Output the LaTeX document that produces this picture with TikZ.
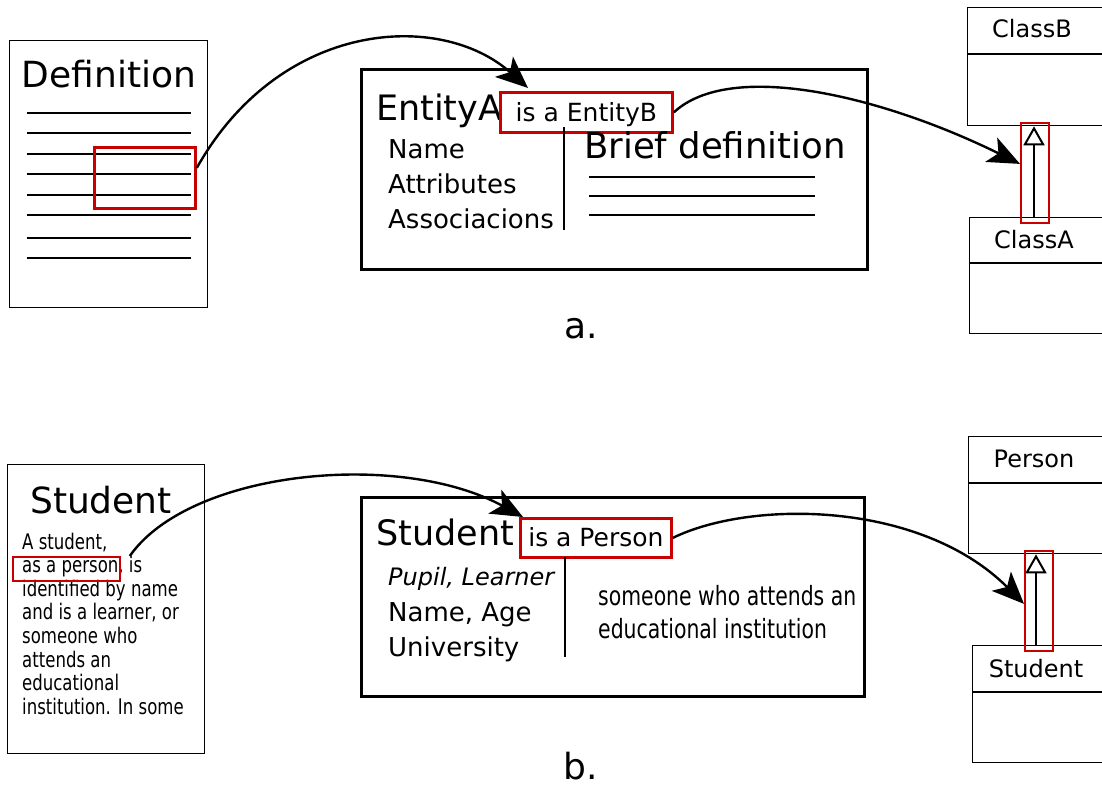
\documentclass[tikz,border=0pt]{standalone}
\usepackage{fontspec}
\setmainfont{DejaVu Sans}
\newfontfamily\narrowfont[FakeStretch=0.77]{DejaVu Sans}
\usetikzlibrary{arrows.meta}
\definecolor{markred}{RGB}{200,0,0}

\begin{document}
\begin{tikzpicture}[x=1pt,y=-1pt,
  frame/.style={draw, line width=1.3pt, inner sep=0pt, anchor=north west},
  entitybox/.style={draw, line width=2.8pt, inner sep=0pt, anchor=north west},
  umlbox/.style={draw, line width=1.3pt, inner sep=0pt, anchor=north west, minimum width=143},
  rule/.style={line width=1.3pt},
  redbox/.style={draw=markred, line width=2.8pt, inner sep=0pt},
  redthin/.style={draw=markred, line width=1.8pt, inner sep=0pt, anchor=north west},
  txt/.style={inner sep=0pt, anchor=base west},
  ctxt/.style={inner sep=0pt, anchor=base},
  link/.style={line width=2.4pt, -{Stealth[length=32pt,width=27pt,inset=8pt]}},
  generalize/.style={line width=2pt, -{Triangle[open,length=19pt,width=21pt,fill=white]}},
  title/.style={font=\fontsize{36}{40}\selectfont},
  big/.style={font=\fontsize{35}{40}\selectfont},
  mid/.style={font=\fontsize{26}{30}\selectfont},
  cls/.style={font=\fontsize{24}{28}\selectfont}]
\useasboundingbox (0,0) rectangle (1102,787);

% ---------------- a. generic definition ----------------
\node[frame, minimum width=198, minimum height=267] (defdoc) at (9,40) {};
\node[ctxt, title] (deftitle) at (109,87) {Definition};
\foreach \yy in {113,133,154,174,195,215,238,258}
  \draw[rule] (27,\yy) -- (191,\yy);
\node[redthin, line width=2.8pt, minimum width=101, minimum height=61] (defmark) at (93,146) {};

\node[entitybox, minimum width=506, minimum height=200] (entbox) at (360,68) {};
\node[txt, big] (entA) at (376,120) {EntityA};
\node[redbox, anchor=north west, minimum width=172, minimum height=40,
      text height=21pt, text depth=3pt, font=\fontsize{25}{30}\selectfont] (isaB) at (499,91) {is a EntityB};
\node[txt, mid] (nameA) at (388,158) {Name};
\node[txt, mid] (attrA) at (388,193) {Attributes};
\node[txt, mid] (assocA) at (388,228) {Associacions};
\draw[rule] (564,127) -- (564,230);
\node[txt, font=\fontsize{35.5}{40}\selectfont] (briefA) at (584,158) {Brief definition};
\foreach \yy in {177,196,215}
  \draw[rule] (589,\yy) -- (815,\yy);

\node[umlbox, minimum height=118] (classB) at (967,7) {};
\draw[rule] ([yshift=-47pt]classB.north west) -- ++(143,0);
\node[ctxt, cls] (classBname) at (1032,37) {ClassB};
\node[umlbox, minimum height=116] (classA) at (969,217) {};
\draw[rule] ([yshift=-46pt]classA.north west) -- ++(143,0);
\node[ctxt, cls] (classAname) at (1034,248) {ClassA};
\draw[generalize] ([xshift=65pt]classA.north west) -- ([xshift=67pt]classB.south west);
\node[redthin, minimum width=28, minimum height=100] (genA) at (1020,122) {};

\draw[link] ([yshift=10pt]defmark.east) .. controls (280,20) and (440,10) .. ([xshift=29pt,yshift=3pt]isaB.north west);
\draw[link] (isaB.east) .. controls (730,60) and (880,95) .. ([yshift=9pt]genA.west);

\node[ctxt, font=\fontsize{36}{40}\selectfont] (labela) at (581,338) {a.};

% ---------------- b. worked example ----------------
\node[frame, minimum width=197, minimum height=289] (studdoc) at (7,464) {};
\node[ctxt, title] (studtitle) at (101,513) {Student};
\node[inner sep=0pt, anchor=north west, align=left, font=\narrowfont\fontsize{21.5}{23.6}\selectfont] (studtext) at (22,532.5)
  {A student,\\as a person, is\\identified by name\\and is a learner, or\\someone who\\attends an\\educational\\institution. In some};
\node[redthin, minimum width=107, minimum height=24] (asperson) at (12,556) {};

\node[entitybox, minimum width=503, minimum height=199] (studbox) at (360,496) {};
\node[txt, big] (studname) at (376,545) {Student};
\node[redbox, anchor=north west, minimum width=151, minimum height=39,
      text height=20pt, text depth=3pt, font=\fontsize{25}{30}\selectfont] (isaP) at (519,517) {is a Person};
\node[txt, font=\itshape\fontsize{24}{30}\selectfont] (synonyms) at (388,585) {Pupil, Learner};
\node[txt, mid] (nameage) at (388,621) {Name, Age};
\node[txt, mid] (univ) at (388,656) {University};
\draw[rule] (565,557) -- (565,657);
\node[txt, font=\narrowfont\fontsize{26.5}{32.5}\selectfont] (briefS) at (598,605)
  {someone who attends an};
\node[txt, font=\narrowfont\fontsize{26.5}{32.5}\selectfont] (briefS2) at (598,638)
  {educational institution};

\node[umlbox, minimum height=117] (person) at (968,436) {};
\draw[rule] ([yshift=-47pt]person.north west) -- ++(143,0);
\node[ctxt, cls] (personname) at (1034,467) {Person};
\node[umlbox, minimum height=117] (studclass) at (972,645) {};
\draw[rule] ([yshift=-47pt]studclass.north west) -- ++(143,0);
\node[ctxt, cls] (studclassname) at (1036,677) {Student};
\draw[generalize] ([xshift=64pt]studclass.north west) -- ([xshift=68pt]person.south west);
\node[redthin, minimum width=28, minimum height=100] (genB) at (1024,550) {};

\draw[link] ([xshift=9pt]asperson.north east) .. controls (190,470) and (400,450) .. ([xshift=4pt]isaP.north west);
\draw[link] (isaP.east) .. controls (750,500) and (920,500) .. ([yshift=-3pt]genB.west);

\node[ctxt, font=\fontsize{36}{40}\selectfont] (labelb) at (581,779) {b.};
\end{tikzpicture}
\end{document}
